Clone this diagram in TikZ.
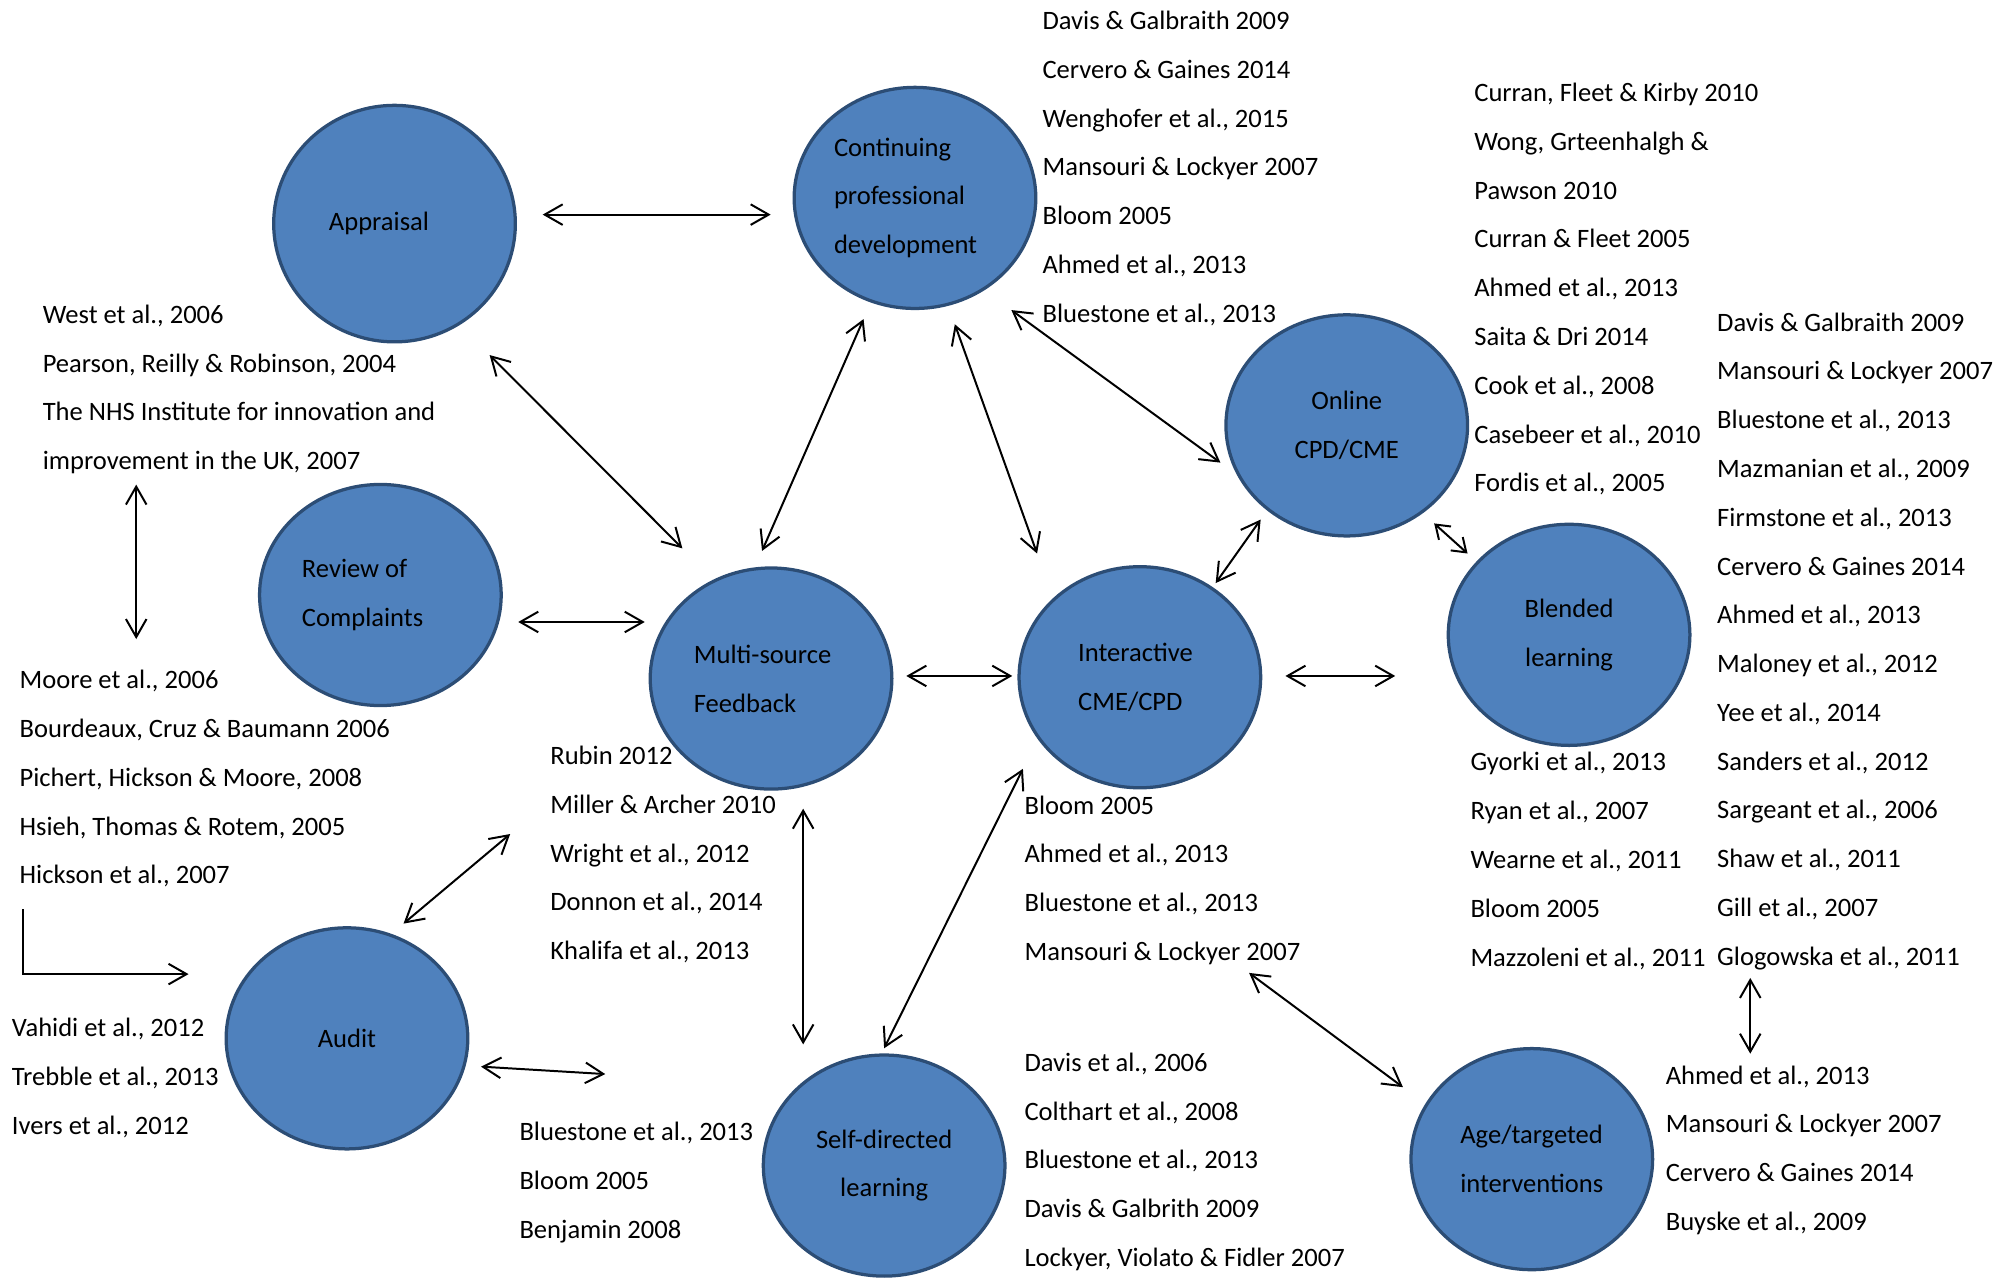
\documentclass[tikz,border=0pt]{standalone}
\usepackage{fontspec}
\setmainfont{Carlito}
\usetikzlibrary{shapes.geometric, arrows.meta}
\definecolor{bubblefill}{HTML}{4F81BD}
\definecolor{bubbleline}{HTML}{2C4D75}

\begin{document}
\begin{tikzpicture}[
      x = 0.025cm, y = -0.025cm,
      > = {Straight Barb[length=3.5mm, width=4mm]},
 bubble/.style = {ellipse, draw=bubbleline, fill=bubblefill, line width=1.8pt,
                  minimum width=4.7cm, minimum height=4.3cm, inner sep=0pt,
                  align=flush left, font=\fontsize{14.7}{27}\selectfont},
   refs/.style = {anchor=west, inner sep=0pt, align=left,
                  font=\fontsize{14.7}{27}\selectfont},
   link/.style = {<->, line width=1.1pt}
                    ]
\useasboundingbox (0,0) rectangle (1568,994);
% the topics
\node (app)    [bubble, minimum height=4.6cm, text width=2.55cm] at (307,174) {Appraisal};
\node (cpd)    [bubble, text width=3.15cm] at (712,154) {Continuing\\professional\\development};
\node (online) [bubble, align=center] at (1048,331) {Online\\CPD/CME};
\node (review) [bubble, text width=3.05cm] at (296,463) {Review of\\Complaints};
\node (msf)    [bubble, text width=3cm] at (600,528) {Multi-source\\Feedback};
\node (inter)  [bubble, text width=2.4cm] at (887,527) {Interactive\\CME/CPD};
\node (blended)[bubble, align=center] at (1221,494) {Blended\\learning};
\node (audit)  [bubble] at (270,808) {Audit};
\node (selfdir)[bubble, align=center] at (688,907) {Self-directed\\learning};
\node (age)    [bubble] at (1192,902) {Age/targeted\\interventions};
% the references
\node (cpdref) [refs] at (811,131) {Davis \& Galbraith 2009\\Cervero \& Gaines 2014\\Wenghofer et al., 2015\\Mansouri \& Lockyer 2007\\Bloom 2005\\Ahmed et al., 2013\\Bluestone et al., 2013};
\node (onlineref) [refs] at (1147,225) {Curran, Fleet \& Kirby 2010\\Wong, Grteenhalgh \&\\Pawson 2010\\Curran \& Fleet 2005\\Ahmed et al., 2013\\Saita \& Dri 2014\\Cook et al., 2008\\Casebeer et al., 2010\\Fordis et al., 2005};
\node (blendref) [refs] at (1336,499) {Davis \& Galbraith 2009\\Mansouri \& Lockyer 2007\\Bluestone et al., 2013\\Mazmanian et al., 2009\\Firmstone et al., 2013\\Cervero \& Gaines 2014\\Ahmed et al., 2013\\Maloney et al., 2012\\Yee et al., 2014\\Sanders et al., 2012\\Sargeant et al., 2006\\Shaw et al., 2011\\Gill et al., 2007\\Glogowska et al., 2011};
\node (blendref2) [refs] at (1144,670) {Gyorki et al., 2013\\Ryan et al., 2007\\Wearne et al., 2011\\Bloom 2005\\Mazzoleni et al., 2011};
\node (appref) [refs] at (33,303) {West et al., 2006\\Pearson, Reilly \& Robinson, 2004\\The NHS Institute for innovation and\\improvement in the UK, 2007};
\node (revref) [refs] at (15,606) {Moore et al., 2006\\Bourdeaux, Cruz \& Baumann 2006\\Pichert, Hickson \& Moore, 2008\\Hsieh, Thomas \& Rotem, 2005\\Hickson et al., 2007};
\node (msfref) [refs] at (428,665) {Rubin 2012\\Miller \& Archer 2010\\Wright et al., 2012\\Donnon et al., 2014\\Khalifa et al., 2013};
\node (interref) [refs] at (797,685) {Bloom 2005\\Ahmed et al., 2013\\Bluestone et al., 2013\\Mansouri \& Lockyer 2007};
\node (auditref) [refs] at (9,839) {Vahidi et al., 2012\\Trebble et al., 2013\\Ivers et al., 2012};
\node (selfref) [refs] at (404,920) {Bluestone et al., 2013\\Bloom 2005\\Benjamin 2008};
\node (selfref2) [refs] at (797,904) {Davis et al., 2006\\Colthart et al., 2008\\Bluestone et al., 2013\\Davis \& Galbrith 2009\\Lockyer, Violato \& Fidler 2007};
\node (ageref) [refs] at (1296,895) {Ahmed et al., 2013\\Mansouri \& Lockyer 2007\\Cervero \& Gaines 2014\\Buyske et al., 2009};
% the links
\draw[link] ([shift={(20,-7)}]app.east) -- ([shift={(-17,13)}]cpd.west);
\draw[link] ([shift={(74,9)}]app.south) -- ([shift={(-69,-14)}]msf.north);
\draw[link] ([shift={(-7,-12)}]msf.north) -- ([shift={(-40,7)}]cpd.south);
\draw[link] ([shift={(-80,-9)}]inter.north) -- ([shift={(31,11)}]cpd.south);
\draw[link] ([shift={(75,0)}]cpd.south) -- ([shift={(-3,29)}]online.west);
\draw[link] ([shift={(-67,-14)}]online.south) -- ([shift={(59,14)}]inter.north);
\draw[link, >={Straight Barb[length=2.5mm, width=3.5mm]}] ([shift={(68,-11)}]online.south) -- ([shift={(-79,24)}]blended.north);
\draw[link] ([shift={(12,21)}]review.east) -- ([shift={(-3,-44)}]msf.west);
\draw[link] ([shift={(10,-2)}]msf.east) -- ([shift={(-4,-1)}]inter.west);
\draw[link] ([shift={(18,-1)}]inter.east) -- ([shift={(-40,32)}]blended.west);
\draw[link] ([shift={(73,8)}]appref.south west) -- ([shift={(91,-24)}]revref.north west);
\draw[->, line width=1.1pt] ([shift={(3,17)}]revref.south west) |- ([shift={(-28,-50)}]audit.west);
\draw[link] ([shift={(44,-2)}]audit.north) -- ([shift={(-31,-16)}]msfref.west);
\draw[link] ([shift={(9,22)}]audit.east) -- ([shift={(67,-37)}]selfref.north west);
\draw[link] ([shift={(25,14)}]msf.south) -- ([shift={(-63,-7)}]selfdir.north);
\draw[link] ([shift={(0,-4)}]selfdir.north) -- ([shift={(-91,-16)}]inter.south);
\draw[link] ([shift={(175,6)}]interref.south west) -- ([shift={(-5,-56)}]age.west);
\draw[link] ([shift={(26,6)}]blendref.south west) -- ([shift={(66,-9)}]ageref.north west);
\end{tikzpicture}
\end{document}
